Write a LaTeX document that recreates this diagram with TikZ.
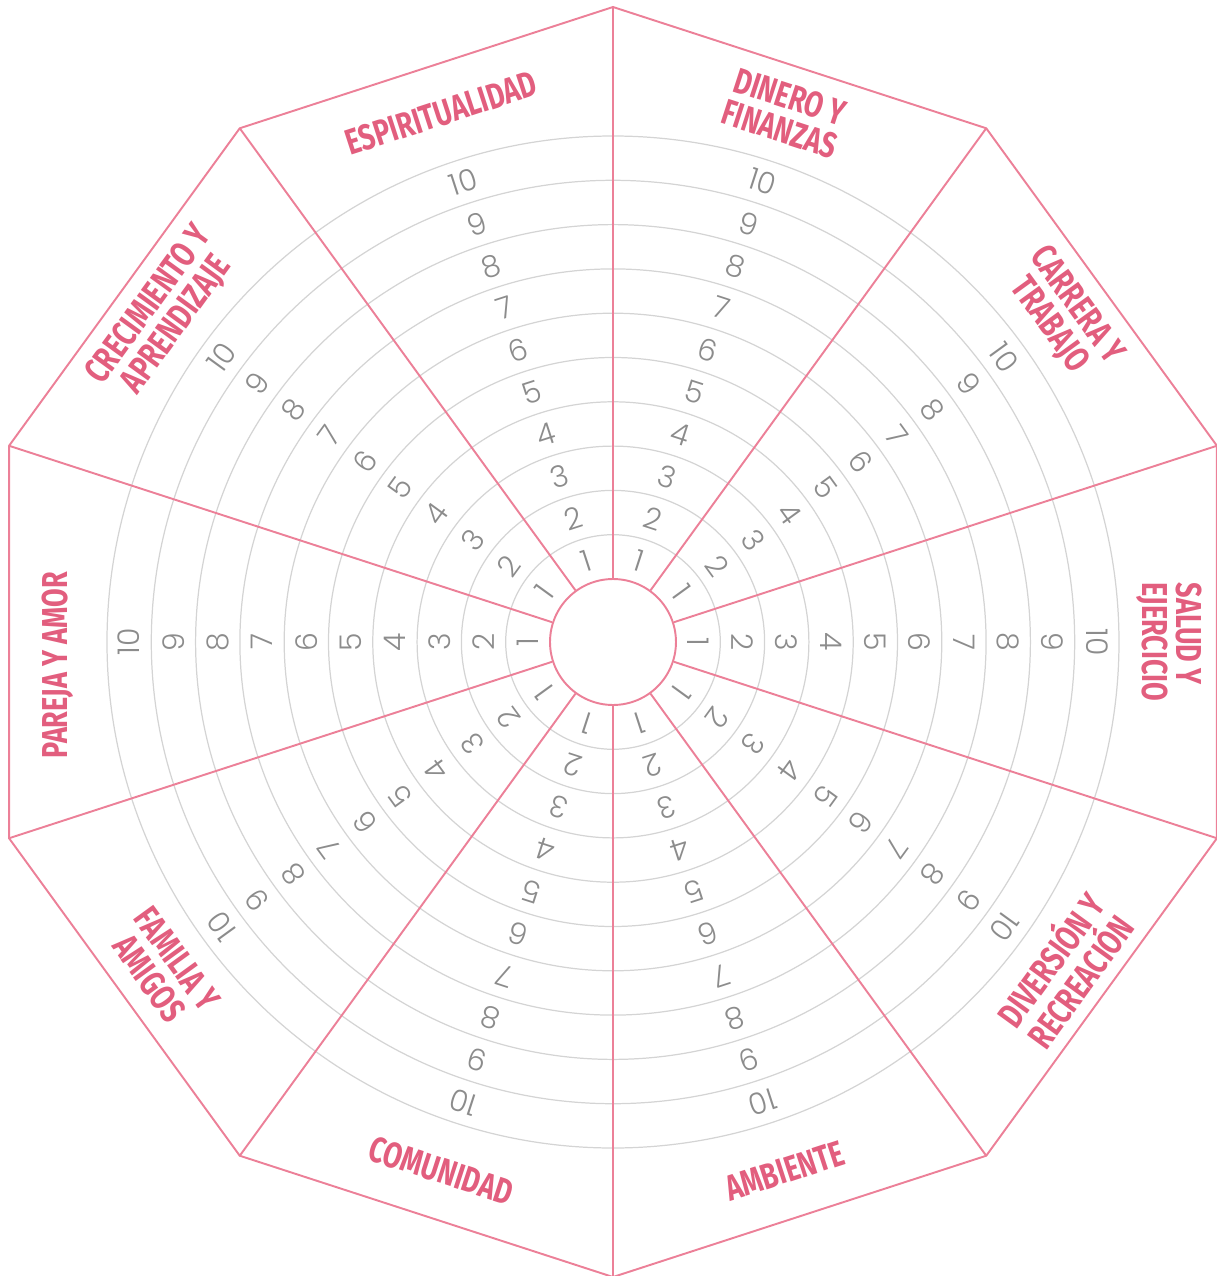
\documentclass[tikz,border=0pt]{standalone}
\usepackage{fontspec}
\usepackage{tikz}
\usetikzlibrary{calc}
\newfontfamily\lblfont{Fira Sans}[FakeStretch=0.75]
\newfontfamily\numfont{Poppins Light}
\definecolor{wheelpink}{RGB}{236,128,152}
\definecolor{labelpink}{RGB}{226,94,126}
\definecolor{ringgray}{RGB}{212,212,212}
\definecolor{numgray}{RGB}{140,140,140}

\begin{document}
\begin{tikzpicture}[x=0.02cm,y=0.02cm,
  spoke/.style={draw=wheelpink,line width=1.1pt},
  ring/.style={draw=ringgray,line width=0.7pt},
  score/.style={text=numgray,font=\numfont\fontsize{17}{17}\selectfont,inner sep=0pt},
  area/.style={text=labelpink,font=\lblfont\bfseries\fontsize{20.5}{19.4}\selectfont,inner sep=0pt}]
\useasboundingbox (-613,-634) rectangle (604,642);
\foreach \k in {1,...,10} {
  \draw[ring] (0,0) circle ({63+44.3*\k});
}
\foreach \v in {0,...,9} {
  \coordinate (v\v) at ({90-36*\v}:635);
}
\draw[spoke,line join=miter] (v0) -- (v1) -- (v2) -- (v3) -- (v4) -- (v5) -- (v6) -- (v7) -- (v8) -- (v9) -- cycle;
\node[spoke,circle,fill=white,minimum size=2.52cm,inner sep=0pt] (hub) at (0,0) {};
\foreach \v in {0,...,9} {
  \draw[spoke] (hub) -- (v\v);
}
\foreach \t [count=\s] in {72,36,0,-36,-72,-108,-144,-180,-216,-252} {
  \foreach \k in {1,...,10} {
    \node[score,rotate={\t-90}] (s\s-\k) at (\t:{63+44.3*(\k-0.5)}) {\k};
  }
}
\foreach \t/\r/\al/\txt [count=\a] in {72/-18/center/{DINERO Y\\FINANZAS},
    36/-54/center/{CARRERA Y\\TRABAJO}, 0/-90/left/{SALUD Y\\EJERCICIO},
    -36/54/center/{DIVERSIÓN Y\\RECREACIÓN}, -72/18/center/{AMBIENTE},
    -108/-18/center/{COMUNIDAD}, -144/-54/center/{FAMILIA Y\\AMIGOS},
    182.4/90/center/{PAREJA Y AMOR}, 144/54/center/{CRECIMIENTO Y\\APRENDIZAJE},
    108/18/center/{ESPIRITUALIDAD}} {
  \node[area,align=\al,rotate=\r] (lab\a) at (\t:556) {\txt};
}
\end{tikzpicture}
\end{document}
